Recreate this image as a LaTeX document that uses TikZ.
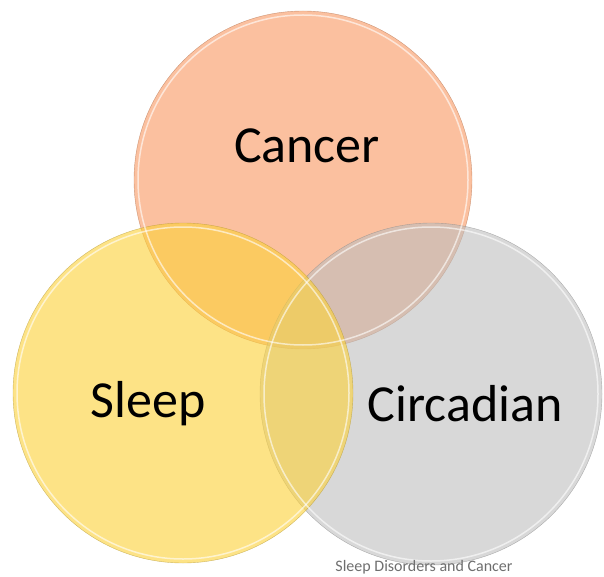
\documentclass[tikz,border=0pt]{standalone}
\usepackage{fontspec}
\setmainfont{Carlito}
\usepackage{xcolor}
\usepackage{tikz}
\definecolor{cancerorange}{RGB}{248, 150, 95}
\definecolor{sleepyellow}{RGB}{252, 210, 60}
\definecolor{circgrey}{RGB}{190, 190, 190}
\definecolor{captiongrey}{RGB}{110, 110, 110}

\begin{document}
\begin{tikzpicture}[x=1pt, y=-1pt]
\useasboundingbox (0,0) rectangle (604,577);
% discs
\draw[fill=cancerorange, fill opacity=0.6, draw=cancerorange!70!black, draw opacity=0.6] (303,180) circle[radius=169pt];
\draw[fill=circgrey, fill opacity=0.6, draw=circgrey!70!black, draw opacity=0.6] (431,394) circle[radius=171pt];
\draw[fill=sleepyellow, fill opacity=0.62, draw=sleepyellow!70!black, draw opacity=0.6] (183,393) circle[radius=170pt];
% gloss rings
\draw[white, opacity=0.6, line width=1.5pt] (303,180) circle[radius=165pt];
\draw[white, opacity=0.6, line width=1.5pt] (183,393) circle[radius=166pt];
\draw[white, opacity=0.6, line width=1.5pt] (431,394) circle[radius=167pt];
\node (cancer) at (307,146) {\fontsize{52}{52}\selectfont Cancer};
\node (sleep) at (148,404) {\fontsize{52}{52}\selectfont Sleep};
\node (circadian) at (465,404) {\fontsize{52}{52}\selectfont Circadian};
\node[captiongrey] (caption) at (424,567) {\fontsize{16}{16}\selectfont Sleep Disorders and Cancer};
\end{tikzpicture}
\end{document}
